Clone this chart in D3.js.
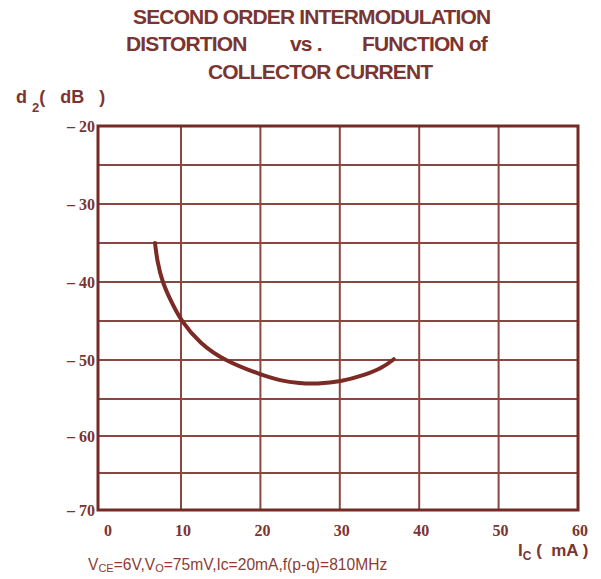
<!DOCTYPE html>
<html>
<head>
<meta charset="utf-8">
<script src="https://cdn.jsdelivr.net/npm/d3@7"></script>
<style>
  body { margin: 0; background: #fff; }
  text { fill: #7b3530; }
</style>
</head>
<body>
<script>
'use strict';

// chart data
const titleLine1 = 'SECOND ORDER INTERMODULATION';
const titleLine2 = ['DISTORTION', 'vs .', 'FUNCTION of'];
const titleLine3 = 'COLLECTOR CURRENT';
const xTicks = [0, 10, 20, 30, 40, 50, 60];
const yTicks = [-20, -30, -40, -50, -60, -70];
const yGrid = [-20, -25, -30, -35, -40, -45, -50, -55, -60, -65, -70];
const icValues = [6.87, 7.14, 7.75, 8.76, 10, 12.4, 15.5, 20.06, 22.45, 25, 27.1, 30.1, 33.2, 35.3, 36.8];
const d2Values = [-35, -37.4, -40, -42.4, -45, -47.9, -50.1, -51.9, -52.65, -53.0, -53.05, -52.8, -51.9, -51.06, -49.9];

const lineColor = '#7b2a24';
const gridColor = '#8a4640';

const svg = d3.select('body')
  .append('svg')
  .attr('width', 601)
  .attr('height', 579)
  .style('font-family', '"Liberation Sans", Arial, sans-serif');

// the scanned grid is a little uneven, so the scales bend at one point
const x = d3.scaleLinear().domain([0, 10, 60]).range([98, 181, 578]);
const y = d3.scaleLinear().domain([-20, -55, -70]).range([126, 399, 510]);

// title
const title = svg.append('g')
  .style('font-size', '21px')
  .style('font-weight', 'bold')
  .style('letter-spacing', '-0.85px');

title.append('text')
  .attr('x', 133)
  .attr('y', 24)
  .text(titleLine1);

title.selectAll('text.mid')
  .data(titleLine2)
  .enter()
  .append('text')
  .attr('class', 'mid')
  .attr('x', (d, i) => [126, 290, 362][i])
  .attr('y', 51)
  .text(d => d);

title.append('text')
  .attr('x', 208)
  .attr('y', 79)
  .text(titleLine3);

// grid
const grid = svg.append('g').attr('id', 'grid');

grid.selectAll('line.h')
  .data(yGrid.slice(1, -1))
  .enter()
  .append('line')
  .attr('class', 'h')
  .attr('x1', x(0))
  .attr('x2', x(60))
  .attr('y1', d => y(d))
  .attr('y2', d => y(d))
  .style('stroke', gridColor)
  .style('stroke-width', 2);

grid.selectAll('line.v')
  .data(xTicks.slice(1, -1))
  .enter()
  .append('line')
  .attr('class', 'v')
  .attr('x1', d => x(d))
  .attr('x2', d => x(d))
  .attr('y1', y(-20))
  .attr('y2', y(-70))
  .style('stroke', gridColor)
  .style('stroke-width', 2);

grid.append('rect')
  .attr('x', x(0))
  .attr('y', y(-20))
  .attr('width', x(60) - x(0))
  .attr('height', y(-70) - y(-20))
  .style('fill', 'none')
  .style('stroke', '#742b25')
  .style('stroke-width', 3);

// y tick labels
svg.append('g')
  .selectAll('text')
  .data(yTicks)
  .enter()
  .append('text')
  .attr('x', 95)
  .attr('y', d => y(d) + 6)
  .attr('text-anchor', 'end')
  .style('font-family', '"Liberation Serif", "Times New Roman", serif')
  .style('font-size', '16px')
  .style('font-weight', 'bold')
  .style('white-space', 'pre')
  .text(d => '\u2013 ' + Math.abs(d));

// x tick labels
svg.append('g')
  .selectAll('text')
  .data(xTicks)
  .enter()
  .append('text')
  .attr('x', d => d === 0 ? x(d) + 10 : x(d) + 2)
  .attr('y', 536)
  .attr('text-anchor', 'middle')
  .style('font-family', '"Liberation Serif", "Times New Roman", serif')
  .style('font-size', '16px')
  .style('font-weight', 'bold')
  .text(d => d);

// y axis title  d2( dB )
const yTitle = svg.append('text')
  .attr('x', 16)
  .attr('y', 103)
  .style('font-size', '18px')
  .style('font-weight', 'bold')
  .style('white-space', 'pre');
yTitle.append('tspan').text('d ');
yTitle.append('tspan').attr('dy', 9).style('font-size', '13px').text('2');
yTitle.append('tspan').attr('dy', -9).text('(   dB   )');

// x axis title  Ic ( mA )
const xTitle = svg.append('text')
  .attr('x', 518)
  .attr('y', 556)
  .style('font-size', '17px')
  .style('font-weight', 'bold')
  .style('white-space', 'pre');
xTitle.append('tspan').text('I');
xTitle.append('tspan').attr('dy', 4).style('font-size', '12px').text('C');
xTitle.append('tspan').attr('dy', -4).text(' (  mA )');

// conditions note
const note = svg.append('text')
  .attr('x', 88)
  .attr('y', 570)
  .style('font-size', '15.6px')
  .style('fill', '#8b3d33');
note.append('tspan').text('V');
note.append('tspan').attr('dy', 2).style('font-size', '11px').text('CE');
note.append('tspan').attr('dy', -2).text('=6V,V');
note.append('tspan').attr('dy', 2).style('font-size', '11px').text('O');
note.append('tspan').attr('dy', -2).text('=75mV,Ic=20mA,f(p-q)=810MHz');

// curve
const line = d3.line()
  .x(d => x(d[0]))
  .y(d => y(d[1]))
  .curve(d3.curveBasis);

svg.append('path')
  .datum(d3.zip(icValues, d2Values))
  .attr('d', line)
  .style('fill', 'none')
  .style('stroke', lineColor)
  .style('stroke-width', 4)
  .style('stroke-linecap', 'round');
</script>
</body>
</html>
